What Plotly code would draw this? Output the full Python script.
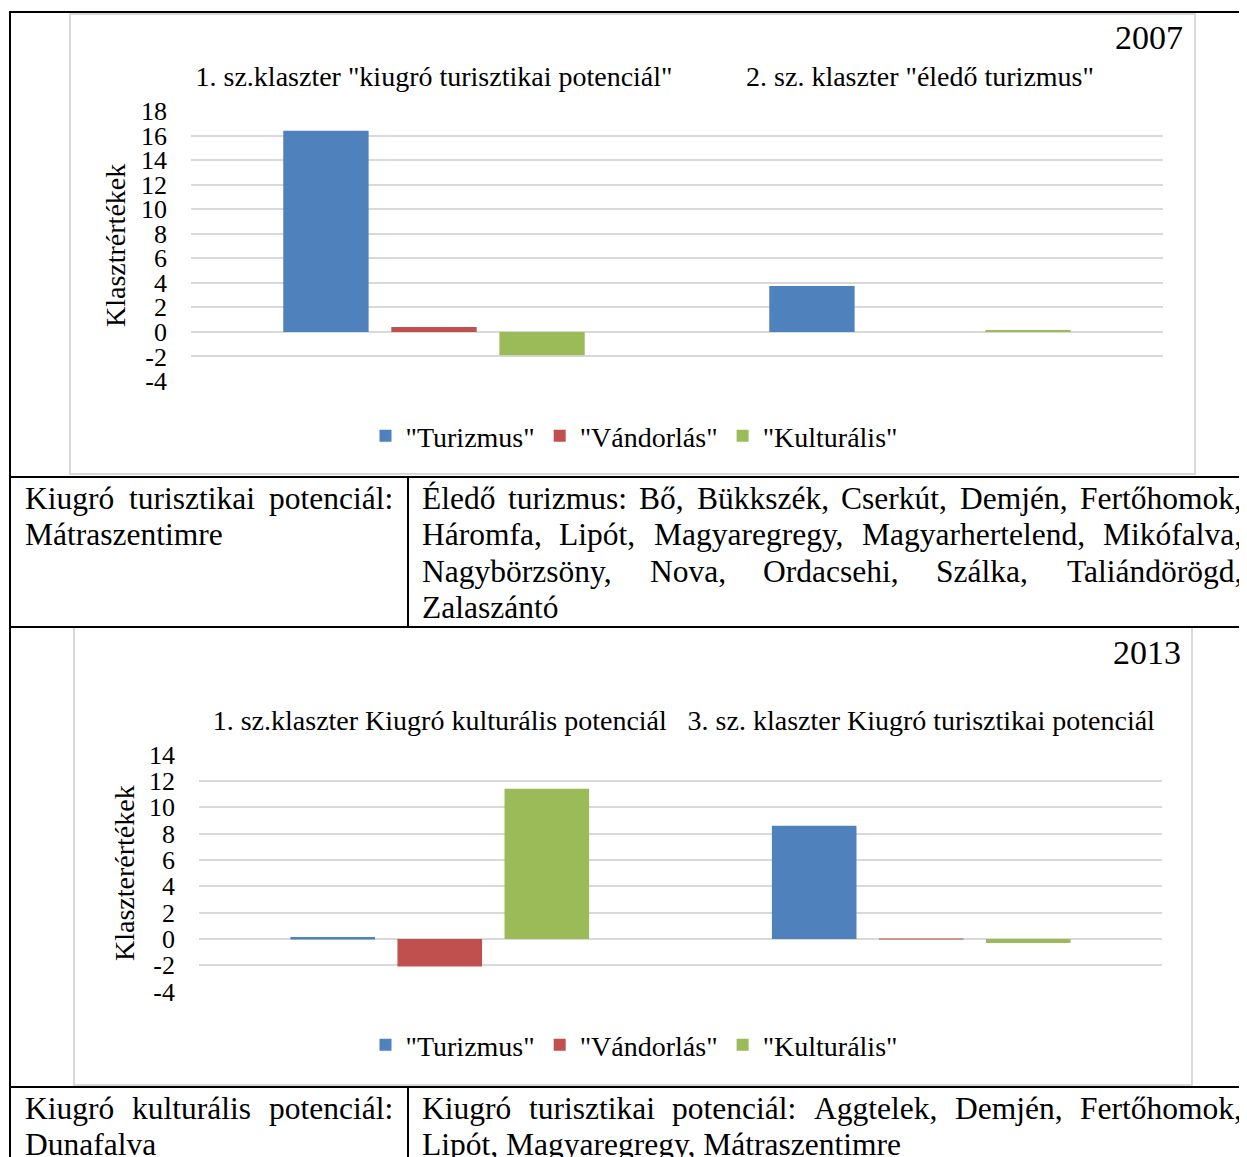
import plotly.graph_objects as go

W, H = 1247, 1157
OFF = 8  # page body margin compensation
FONT = "Liberation Serif, Times New Roman, serif"
C_TUR, C_VAN, C_KUL = "#4f81bd", "#c0504d", "#9bbb59"
GRID = "#d9d9d9"

# ---------------- data ----------------
series_names = ['"Turizmus"', '"Vándorlás"', '"Kulturális"']

categories_2007 = ['1. sz.klaszter "kiugró turisztikai potenciál"',
                   '2. sz. klaszter "éledő turizmus"']
turizmus_2007 = [16.4, 3.75]
vandorlas_2007 = [0.4, 0.0]
kulturalis_2007 = [-1.9, 0.15]

categories_2013 = ['1. sz.klaszter Kiugró kulturális potenciál',
                   '3. sz. klaszter Kiugró turisztikai potenciál']
turizmus_2013 = [0.15, 8.6]
vandorlas_2013 = [-2.1, -0.05]
kulturalis_2013 = [11.4, -0.3]

y_ticks_2007 = [-4, -2, 0, 2, 4, 6, 8, 10, 12, 14, 16, 18]
y_ticks_2013 = [-4, -2, 0, 2, 4, 6, 8, 10, 12, 14]

row1_left = [("Kiugró turisztikai potenciál:", True), ("Mátraszentimre", False)]
row1_right = [("Éledő turizmus: Bő, Bükkszék, Cserkút, Demjén, Fertőhomok,", True),
              ("Háromfa, Lipót, Magyaregregy, Magyarhertelend, Mikófalva,", True),
              ("Nagybörzsöny, Nova, Ordacsehi, Szálka, Taliándörögd,", True),
              ("Zalaszántó", False)]
row2_left = [("Kiugró kulturális potenciál:", True), ("Dunafalva", False)]
row2_right = [("Kiugró turisztikai potenciál: Aggtelek, Demjén, Fertőhomok,", True),
              ("Lipót, Magyaregregy, Mátraszentimre", False)]


def px(x):
    return (x - OFF) / W


def py(y):
    return 1 - (y - OFF) / H


fig = go.Figure()

for vals, name, col in [(turizmus_2007, series_names[0], C_TUR),
                        (vandorlas_2007, series_names[1], C_VAN),
                        (kulturalis_2007, series_names[2], C_KUL)]:
    fig.add_trace(go.Bar(x=categories_2007, y=vals, name=name, marker_color=col,
                         marker_line_width=0, xaxis="x", yaxis="y", legend="legend"))

for vals, name, col in [(turizmus_2013, series_names[0], C_TUR),
                        (vandorlas_2013, series_names[1], C_VAN),
                        (kulturalis_2013, series_names[2], C_KUL)]:
    fig.add_trace(go.Bar(x=categories_2013, y=vals, name=name, marker_color=col,
                         marker_line_width=0, xaxis="x2", yaxis="y2", legend="legend2"))

cat_font = dict(family=FONT, size=28, color="black")
tick_font = dict(family=FONT, size=26, color="black")

common_x = dict(side="top", showgrid=False, showline=False, zeroline=False, ticks="",
                tickfont=cat_font, automargin=False, fixedrange=True, ticklabelstandoff=18)
common_y = dict(showgrid=True, gridcolor=GRID, gridwidth=2, zeroline=True, zerolinecolor=GRID,
                zerolinewidth=2, showline=False, ticks="", tickfont=tick_font, automargin=False,
                ticklabelstandoff=23)

legend_common = dict(orientation="h", xanchor="center", yanchor="middle",
                     font=dict(family=FONT, size=28, color="black"), bgcolor="rgba(0,0,0,0)",
                     itemsizing="constant", tracegroupgap=0)

fig.update_layout(
    width=W, height=H, margin=dict(l=0, r=0, t=0, b=0),
    paper_bgcolor="white", plot_bgcolor="white",
    font=dict(family=FONT, color="black"),
    barmode="group", bargap=0.333, bargroupgap=0.21,
    xaxis=dict(domain=[px(191), px(1163)], anchor="y", **common_x),
    yaxis=dict(domain=[py(381), py(111)], anchor="x", range=[-4, 18],
               tickvals=y_ticks_2007, ticktext=[str(v) for v in y_ticks_2007], **common_y),
    xaxis2=dict(domain=[px(199), px(1162)], anchor="y2", **common_x),
    yaxis2=dict(domain=[py(991.6), py(754.6)], anchor="x2", range=[-4, 14],
                tickvals=y_ticks_2013, ticktext=[str(v) for v in y_ticks_2013], **common_y),
    legend=dict(x=px(634), y=py(436), **legend_common),
    legend2=dict(x=px(634), y=py(1045), **legend_common),
)

shapes = []
# chart frames
shapes.append(dict(type="rect", xref="paper", yref="paper", x0=px(70), x1=px(1195),
                   y0=py(474), y1=py(14), line=dict(color=GRID, width=2), layer="below"))
shapes.append(dict(type="rect", xref="paper", yref="paper", x0=px(74), x1=px(1192),
                   y0=py(1085), y1=py(627), line=dict(color=GRID, width=2), layer="below"))


def hline(y, x0=10, x1=W + 20):
    shapes.append(dict(type="line", xref="paper", yref="paper", x0=px(x0), x1=px(x1),
                       y0=py(y), y1=py(y), line=dict(color="black", width=2)))


def vline(x, y0, y1):
    shapes.append(dict(type="line", xref="paper", yref="paper", x0=px(x), x1=px(x),
                       y0=py(y0), y1=py(y1), line=dict(color="black", width=2)))


hline(12)
hline(477)
hline(627)
hline(1087)
vline(10, 11, H + 20)
vline(408, 477, 627)
vline(408, 1087, H + 20)

annotations = []
ann_font = dict(family=FONT, size=28, color="black")
annotations.append(dict(text="Klasztrértékek", x=px(116), y=py(246), xref="paper", yref="paper",
                        textangle=-90, showarrow=False, xanchor="center", yanchor="middle",
                        font=ann_font))
annotations.append(dict(text="Klaszterértékek", x=px(124), y=py(873), xref="paper", yref="paper",
                        textangle=-90, showarrow=False, xanchor="center", yanchor="middle",
                        font=ann_font))
annotations.append(dict(text="2007", x=px(1185), y=py(38), xref="paper", yref="paper",
                        showarrow=False, xanchor="right", yanchor="middle",
                        font=dict(family=FONT, size=34, color="black")))
annotations.append(dict(text="2013", x=px(1183), y=py(652), xref="paper", yref="paper",
                        showarrow=False, xanchor="right", yanchor="middle",
                        font=dict(family=FONT, size=34, color="black")))

# Times-compatible advance widths (1/1000 em) for justified text layout
TW = {' ': 250, '"': 408, ',': 250, '.': 250, ':': 278, '-': 333}
for ch, w in zip("ABCDEFGHIJKLMNOPQRSTUVWXYZ",
                 [722, 667, 667, 722, 611, 556, 722, 722, 333, 389, 722, 611, 889, 722, 722,
                  556, 722, 667, 556, 611, 722, 722, 944, 722, 722, 611]):
    TW[ch] = w
for ch, w in zip("abcdefghijklmnopqrstuvwxyz",
                 [444, 500, 444, 500, 444, 333, 500, 500, 278, 278, 500, 278, 778, 500, 500,
                  500, 500, 333, 389, 278, 500, 500, 722, 500, 500, 444]):
    TW[ch] = w
TW.update({'á': 444, 'é': 444, 'í': 278, 'ó': 500, 'ö': 500, 'ő': 500, 'ú': 500, 'ü': 500,
           'ű': 500, 'É': 611, 'Á': 722, 'Ó': 722, 'Ö': 722})

TFS = 31.5


def word_w(w):
    return sum(TW.get(c, 500) for c in w) * TFS / 1000.0


def text_ann(text, x, y, anchor):
    annotations.append(dict(text=text, x=px(x), y=py(y), xref="paper", yref="paper",
                            showarrow=False, xanchor=anchor, yanchor="middle",
                            borderpad=0, borderwidth=0,
                            font=dict(family=FONT, size=TFS, color="black")))


def text_cell(lines, left, right, y_first, pitch):
    for i, (txt, just) in enumerate(lines):
        y = y_first + i * pitch
        words = txt.split(" ")
        if not just or len(words) == 1:
            text_ann(txt, left, y, "left")
            continue
        widths = [word_w(w) for w in words]
        gap = (right - left - sum(widths)) / (len(words) - 1)
        x = left
        for j, (w, ww) in enumerate(zip(words, widths)):
            if j == len(words) - 1:
                text_ann(w, right, y, "right")
            elif j == 0:
                text_ann(w, left, y, "left")
            else:
                text_ann(w, x + ww / 2, y, "center")
            x += ww + gap


text_cell(row1_left, 25, 393, 498, 36.5)
text_cell(row1_right, 422, 1242, 498, 36.5)
text_cell(row2_left, 25, 393, 1108, 36.5)
text_cell(row2_right, 422, 1242, 1108, 36.5)

fig.update_layout(shapes=shapes, annotations=annotations)

fig.write_html("out.html")
